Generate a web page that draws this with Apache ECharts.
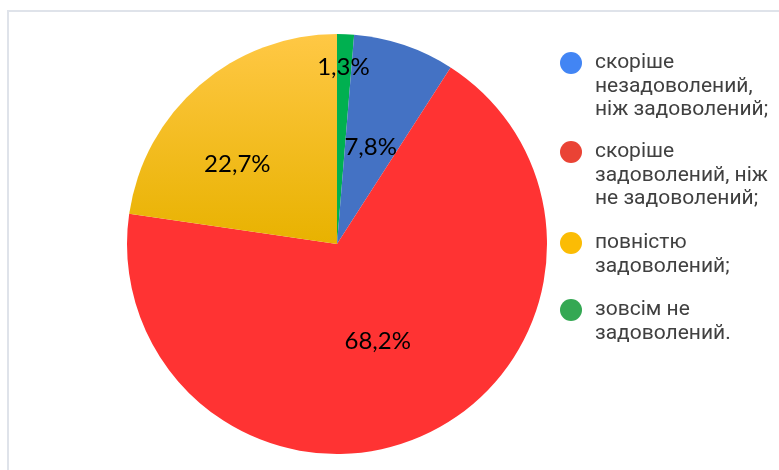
<!DOCTYPE html>
<html>
<head>
<meta charset="utf-8">
<script src="https://cdn.jsdelivr.net/npm/echarts@6/dist/echarts.min.js"></script>
<style>
html,body{margin:0;padding:0;background:#fff;}
#chart{width:779px;height:470px;}
</style>
</head>
<body>
<div id="chart"></div>
<script>
// Legend order
const categories = [
  'скоріше\nнезадоволений,\nніж задоволений;',
  'скоріше\nзадоволений, ніж\nне задоволений;',
  'повністю\nзадоволений;',
  'зовсім не\nзадоволений.'
];
const values = [7.8, 68.2, 22.7, 1.3];
const labels = ['7,8%', '68,2%', '22,7%', '1,3%'];
// Slice order, clockwise from 12 o'clock (indices into categories)
const sliceOrder = [3, 0, 1, 2];
const sliceColors = [
  '#4472C4',
  '#FF3333',
  {type:'linear', x:0, y:0, x2:0, y2:1, colorStops:[{offset:0,color:'#FFC845'},{offset:1,color:'#E8B200'}]},
  '#00B050'
];
const legendColors = ['#4285F4', '#EA4335', '#FBBC04', '#34A853'];
const labelOffsets = [[-1, 6], [-4, -1], [-29, 2], [2, -69]];
const legendCenters = [63, 152, 243, 310];
const LH = 23.5;

const chart = echarts.init(document.getElementById('chart'));

const legends = categories.map((name, i) => {
  const lines = name.split('\n').length;
  const half = ((2 * lines - 1) * LH) / 2;
  return {
    left: 560,
    top: legendCenters[i] - half,
    padding: 0,
    orient: 'vertical',
    icon: 'circle',
    itemWidth: 22,
    itemHeight: 22,
    selectedMode: false,
    data: [{name: name, itemStyle: {color: legendColors[i]}}],
    formatter: (n) => '\n'.repeat(n.split('\n').length - 1) + n,
    textStyle: {
      fontFamily: 'Roboto',
      fontSize: 21,
      lineHeight: LH,
      color: '#404040',
      padding: [0, 0, 0, 8]
    }
  };
});

chart.setOption({
  animation: false,
  backgroundColor: '#ffffff',
  graphic: [{
    type: 'polyline',
    shape: {points: [[8, 470], [8, 11], [779, 11]]},
    style: {stroke: '#dfe3ea', lineWidth: 2, fill: null}
  }],
  legend: legends,
  series: [{
    type: 'pie',
    center: [337, 244],
    radius: [0, 210],
    startAngle: 90,
    clockwise: true,
    avoidLabelOverlap: false,
    emphasis: {disabled: true},
    itemStyle: {borderWidth: 0},
    label: {
      show: true,
      position: 'inside',
      fontFamily: 'Lato',
      fontSize: 24,
      color: '#000000'
    },
    labelLine: {show: false},
    data: sliceOrder.map((i) => ({
      name: categories[i],
      value: values[i],
      itemStyle: {color: sliceColors[i]},
      label: {formatter: labels[i], offset: labelOffsets[i]}
    }))
  }]
});
</script>
</body>
</html>
